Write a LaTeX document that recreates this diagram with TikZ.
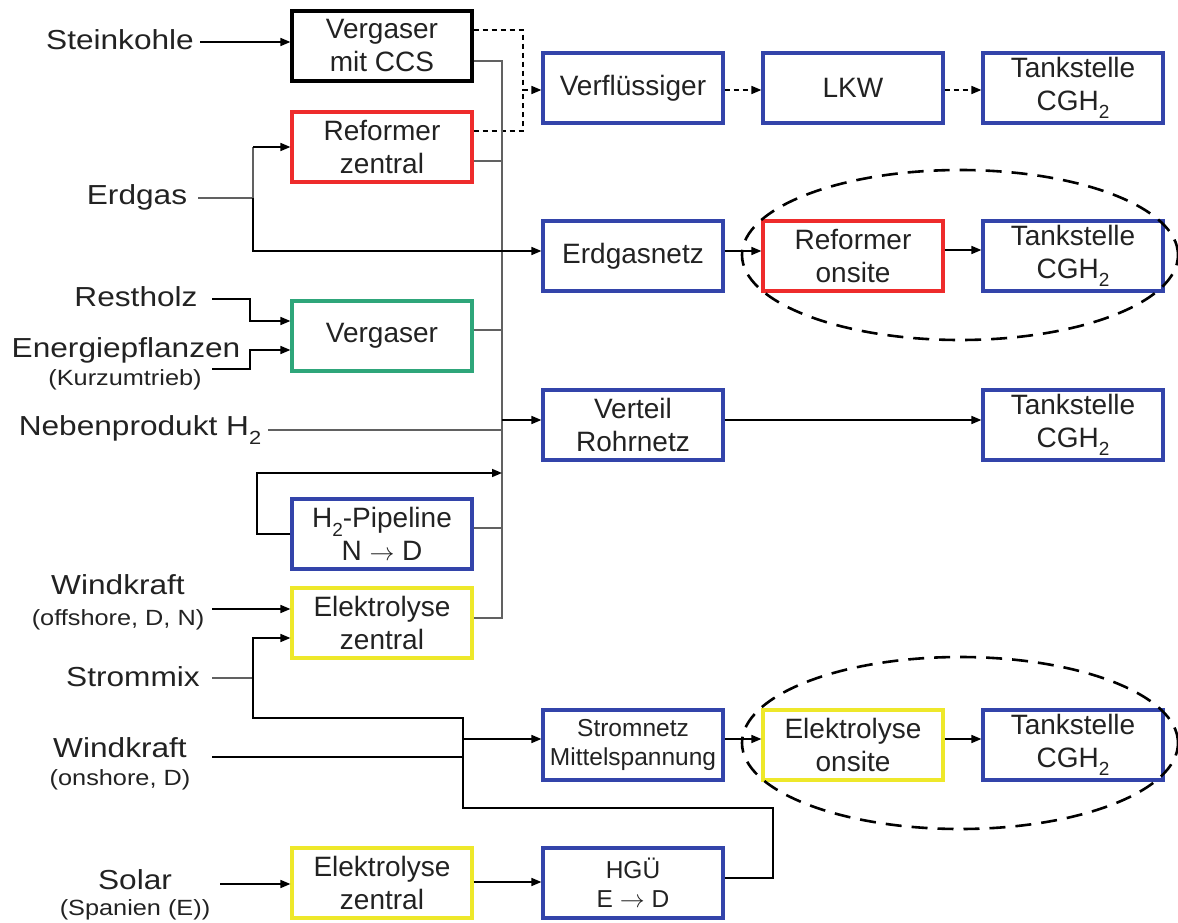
\documentclass[tikz,border=0pt]{standalone}
\usepackage{fontspec}
\setmainfont{Liberation Sans}
\newfontfamily\widefont{Liberation Sans}[FakeStretch=1.15]
\usetikzlibrary{arrows.meta,calc}
\newcommand\myLbl{\widefont\fontsize{27.5}{33}\selectfont}
\newcommand\mySml{\widefont\fontsize{22}{26}\selectfont}
\newcommand\myBox{\fontsize{28}{33}\selectfont}
\newcommand\myBoxS{\fontsize{24.5}{29}\selectfont}
\newcommand\mysub[1]{\raisebox{-0.3em}{\fontsize{19}{19}\selectfont #1}}
\definecolor{bblue}{RGB}{51,68,170}
\definecolor{bred}{RGB}{238,43,43}
\definecolor{bgreen}{RGB}{46,166,122}
\definecolor{byellow}{RGB}{238,232,42}
\definecolor{txt}{RGB}{34,34,34}
\begin{document}
\begin{tikzpicture}[x=1pt,y=-1pt,
  box/.style={draw, line width=3.2pt, minimum width=180pt, minimum height=70pt,
    align=center, inner sep=0pt, font=\myBox, text=txt},
  lbl/.style={font=\myLbl, text=txt, inner sep=0pt},
  sml/.style={font=\mySml, text=txt, inner sep=0pt},
  ln/.style={line width=1.6pt, draw=black},
  gl/.style={line width=1.6pt, draw=black!62},
  arr/.style={ln, -{Triangle[length=10pt,width=8pt]}},
  dsh/.style={line width=1.5pt, dash pattern=on 5pt off 4pt},
  darr/.style={arr, line width=1.5pt, dash pattern=on 5pt off 4pt},
  ell/.style={line width=2.6pt, dash pattern=on 16pt off 10pt}]
\useasboundingbox (0,0) rectangle (1178,923);
\clip (0,0) rectangle (1178,923);

% boxes
\node[box, draw=black] (b1) at (382,46) {Vergaser\\mit CCS};
\node[box, draw=bred] (b2) at (382,147) {Reformer\\zentral};
\node[box, draw=bblue] (b3) at (633,88) {Verfl\"ussiger};
\node[box, draw=bblue] (b4) at (853,88) {LKW};
\node[box, draw=bblue] (b5) at (1073,88) {Tankstelle\\CGH\mysub{2}};
\node[box, draw=bblue] (b6) at (633,256) {Erdgasnetz};
\node[box, draw=bred] (b7) at (853,256) {Reformer\\onsite};
\node[box, draw=bblue] (b8) at (1073,256) {Tankstelle\\CGH\mysub{2}};
\node[box, draw=bgreen] (b9) at (382,336) {Vergaser};
\node[box, draw=bblue] (b10) at (633,425) {Verteil\\Rohrnetz};
\node[box, draw=bblue] (b11) at (1073,425) {Tankstelle\\CGH\mysub{2}};
\node[box, draw=bblue] (b12) at (382,534) {H\mysub{2}-Pipeline\\N $\rightarrow$ D};
\node[box, draw=byellow] (b13) at (382,623) {Elektrolyse\\zentral};
\node[box, draw=bblue, font=\myBoxS] (b14) at (633,745) {Stromnetz\\Mittelspannung};
\node[box, draw=byellow] (b15) at (853,745) {Elektrolyse\\onsite};
\node[box, draw=bblue] (b16) at (1073,745) {Tankstelle\\CGH\mysub{2}};
\node[box, draw=byellow] (b17) at (382,883) {Elektrolyse\\zentral};
\node[box, draw=bblue, font=\myBoxS] (b18) at (633,883) {HG\"U\\E $\rightarrow$ D};

% ellipses
\draw[ell] (960,255) ellipse [x radius=218pt, y radius=85pt];
\draw[ell] (960,743) ellipse [x radius=218pt, y radius=86pt];

% left labels
\node[lbl] (stein) at (120,40) {Steinkohle};
\node[lbl] (erdgas) at (137,197) {Erdgas};
\node[lbl] (restholz) at (136,297) {Restholz};
\node[lbl] (energie) at (126,350) {Energiepflanzen};
\node[sml] (kurz) at (125,380) {(Kurzumtrieb)};
\node[lbl] (neben) at (140,430) {Nebenprodukt H\mysub{2}};
\node[lbl] (wind1) at (118,585) {Windkraft};
\node[sml] (off) at (118,620) {(offshore, D, N)};
\node[lbl] (strommix) at (133,677) {Strommix};
\node[lbl] (wind2) at (120,748) {Windkraft};
\node[sml] (on) at (120,780) {(onshore, D)};
\node[lbl] (solar) at (135,880) {Solar};
\node[sml] (spanien) at (135,910) {(Spanien (E))};

% coordinates
\coordinate (bx) at (502,0);
\coordinate (s1) at (200,42);
\coordinate (dj) at (523,90);
\coordinate (e1) at (198,198);
\coordinate (ej) at (253,198);
\coordinate (r1) at (212,299);
\coordinate (rj) at (250,299);
\coordinate (en1) at (212,369);
\coordinate (enj) at (250,369);
\coordinate (nb) at (268,430);
\coordinate (pl) at (257,473);
\coordinate (w1) at (212,609);
\coordinate (sm1) at (212,678);
\coordinate (smj) at (253,678);
\coordinate (sj2) at (463,718);
\coordinate (hj) at (773,808);
\coordinate (w2) at (212,757);
\coordinate (so) at (220,884);
\path (b1.east) ++(0,15) coordinate (o1);
\path (b2.east) ++(0,14) coordinate (o2);
\path (b9.east) ++(0,-6) coordinate (o9);
\path (b12.east) ++(0,-6) coordinate (o12);
\path (b13.east) ++(0,-5) coordinate (o13);
\path ([yshift=5pt]b10.west) coordinate (i10);
\path ([yshift=5pt]b6.west) coordinate (i6);
\path ([yshift=6pt]b14.west) coordinate (i14);

% Steinkohle
\draw[arr] (s1) -- (s1 -| b1.west);
% dashed to Verfluessiger
\draw[dsh] ([yshift=16pt]b1.east) -| (dj);
\draw[dsh] ([yshift=16pt]b2.east) -| (dj);
\draw[darr] (dj) -- (dj -| b3.west);
\draw[darr] (dj -| b3.east) -- (dj -| b4.west);
\draw[darr] (dj -| b4.east) -- (dj -| b5.west);

% bus
\draw[gl] (o1) -| (o13 -| bx) -- (o13);
\draw[gl] (o2) -- (o2 -| bx);
\draw[gl] (o9) -- (o9 -| bx);
\draw[gl] (o12) -- (o12 -| bx);
\draw[gl] (nb) -- (nb -| bx);
\draw[arr] (i10 -| bx) -- (i10);
\draw[arr] (i10 -| b10.east) -- (i10 -| b11.west);

% Erdgas
\draw[gl] (e1) -- (ej);
\draw[gl] (ej) -- (ej |- b2.west);
\draw[arr] (ej |- b2.west) -- (b2.west);
\draw[arr] (ej) |- (i6);
\draw[arr] ([yshift=5pt]b6.east) -- ([yshift=5pt]b7.west);
\draw[arr] ([yshift=6pt]b7.east) -- ([yshift=6pt]b8.west);

% Restholz / Energiepflanzen
\draw[arr] (r1) -- (rj) |- ([yshift=15pt]b9.west);
\draw[arr] (en1) -- (enj) |- ([yshift=-14pt]b9.west);

% H2 pipeline loop
\draw[arr] (b12.west) -| (pl) -- (pl -| bx);

% Windkraft offshore
\draw[arr] (w1) -- (w1 -| b13.west);

% Strommix
\draw[gl] (sm1) -- (smj);
\draw[arr] (smj) |- ([yshift=-15pt]b13.west);
\draw[ln] (smj) |- (sj2) |- (hj) |- ([yshift=5pt]b18.east);
\draw[arr] (i14 -| sj2) -- (i14);
\draw[ln] (w2) -- (w2 -| sj2);
\draw[arr] (i14 -| b14.east) -- (i14 -| b15.west);
\draw[arr] (i14 -| b15.east) -- (i14 -| b16.west);

% Solar
\draw[arr] (so) -- (so -| b17.west);
\draw[arr] ([yshift=1pt]b17.east) -- ([yshift=1pt]b18.west);
\end{tikzpicture}
\end{document}
